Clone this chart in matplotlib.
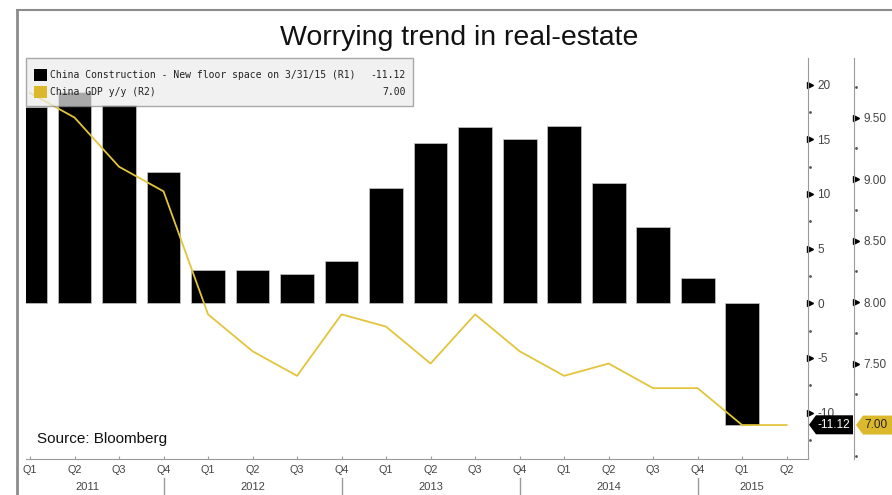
import numpy as np
import matplotlib
matplotlib.use("Agg")
import matplotlib.pyplot as plt
import matplotlib.transforms as mtrans
from matplotlib.patches import Rectangle, Polygon
from matplotlib.lines import Line2D
from matplotlib import font_manager

# ---- data ----
quarters = ["Q1", "Q2", "Q3", "Q4"] * 4 + ["Q1", "Q2"]
years = ["2011", "2012", "2013", "2014", "2015"]
construction = [18.0, 19.3, 18.1, 12.0, 3.0, 3.0, 2.7, 3.9, 10.5, 14.7,
                16.1, 15.0, 16.2, 11.0, 7.0, 2.3, -11.12, np.nan]
gdp = [9.7, 9.5, 9.1, 8.9, 7.9, 7.6, 7.4, 7.9, 7.8, 7.5,
       7.9, 7.6, 7.4, 7.5, 7.3, 7.3, 7.0, 7.0]
r1_ticks = [-10, -5, 0, 5, 10, 15, 20]
r1_minor = [-12.5, -7.5, -2.5, 2.5, 7.5, 12.5, 17.5]
r2_ticks = [7.50, 8.00, 8.50, 9.00, 9.50]
r2_minor = [6.75, 7.25, 7.75, 8.25, 8.75, 9.25, 9.75]
last_construction = -11.12
last_gdp = 7.00
legend_labels = ["China Construction - New floor space on 3/31/15 (R1)",
                 "China GDP y/y (R2)"]

_names = {f.name for f in font_manager.fontManager.ttflist}
NARROW = "Liberation Sans Narrow" if "Liberation Sans Narrow" in _names else "Liberation Sans"
MONO = "DejaVu Sans Mono"

W, H = 892, 495
BAR_C = "black"
LINE_C = "#e3c43b"
TAG_C = "#dcb92c"
AX_C = "#9a9a9a"
LBL_C = "#444444"
R2_OFFSET_PX = 46

fig = plt.figure(figsize=(W / 100, H / 100), dpi=100)
fig.patch.set_facecolor("white")


def fx(px):
    return px / W


def fy(py):
    return 1 - py / H


ax = fig.add_axes([fx(26), fy(459), (808 - 26) / W, (459 - 58) / H])
x = np.arange(len(quarters))
ax.bar(x, construction, width=0.76, color=BAR_C, edgecolor="#c8c8c8", linewidth=0.5)
ax.set_xlim(-0.09, 17.48)
ax.set_ylim(-14.25, 22.44)

ax2 = ax.twinx()
ax2.plot(x, gdp, color=LINE_C, lw=1.3)
ax2.set_ylim(6.724, 9.984)

# spines
for s in ("left", "top"):
    ax.spines[s].set_visible(False)
    ax2.spines[s].set_visible(False)
ax2.spines["bottom"].set_visible(False)
ax.spines["right"].set_color(AX_C)
ax.spines["bottom"].set_color(AX_C)
ax2.spines["right"].set_color(AX_C)
ax2.spines["right"].set_position(("outward", R2_OFFSET_PX * 72 / 100))

# right-hand value axes
ax.yaxis.tick_right()
ax.set_yticks(r1_ticks)
ax.set_yticklabels([str(v) for v in r1_ticks])
ax.tick_params(axis="y", which="both", length=0, pad=6.5, labelsize=8.5,
               labelcolor=LBL_C)
for t in ax.get_yticklabels():
    t.set_family(NARROW)
ax2.set_yticks(r2_ticks)
ax2.set_yticklabels([f"{v:.2f}" for v in r2_ticks])
ax2.tick_params(axis="y", which="both", length=0, pad=7, labelsize=8.5,
                labelcolor=LBL_C)
for t in ax2.get_yticklabels():
    t.set_family(NARROW)

shift = mtrans.ScaledTranslation(2 / 100, 0, fig.dpi_scale_trans)
tr1 = mtrans.blended_transform_factory(ax.transAxes, ax.transData) + shift
ax.plot([1] * len(r1_ticks), r1_ticks, transform=tr1, marker=">", ms=4,
        color="black", ls="none", clip_on=False)
ax.plot([1] * len(r1_minor), r1_minor, transform=tr1, marker=".", ms=2,
        color="#555555", ls="none", clip_on=False)
shift2 = mtrans.ScaledTranslation((R2_OFFSET_PX + 2) / 100, 0, fig.dpi_scale_trans)
tr2 = mtrans.blended_transform_factory(ax2.transAxes, ax2.transData) + shift2
ax2.plot([1] * len(r2_ticks), r2_ticks, transform=tr2, marker=">", ms=4,
         color="black", ls="none", clip_on=False)
ax2.plot([1] * len(r2_minor), r2_minor, transform=tr2, marker=".", ms=2,
         color="#555555", ls="none", clip_on=False)

# quarter axis
ax.set_xticks(x)
ax.set_xticklabels(quarters)
ax.tick_params(axis="x", length=2, direction="in", color=AX_C, pad=4,
               labelsize=7.8, labelcolor=LBL_C)
for t in ax.get_xticklabels():
    t.set_family(NARROW)

ytr = mtrans.blended_transform_factory(ax.transData, fig.transFigure)
year_pos = [1.3, 5.0, 9.0, 13.0, 16.22]
for yr, p in zip(years, year_pos):
    ax.text(p, fy(487), yr, transform=ytr, ha="center", va="center",
            fontsize=8, color=LBL_C, family=NARROW)
for sep in (3, 7, 11, 15):
    fig.add_artist(Line2D([sep, sep], [fy(478), fy(495)], transform=ytr,
                          color=AX_C, lw=1))

# legend panel
fig.add_artist(Rectangle((fx(26), fy(106)), (413 - 26) / W, (106 - 58) / H,
                         transform=fig.transFigure, facecolor="#ececec",
                         alpha=0.72, edgecolor="#8a8a8a", lw=1, zorder=5))
for i, (lab, col, val) in enumerate(zip(legend_labels, [BAR_C, TAG_C],
                                        [f"{last_construction:.2f}", f"{last_gdp:.2f}"])):
    cy = 75 + 17 * i
    fig.add_artist(Rectangle((fx(34), fy(cy + 6)), 13 / W, 12 / H,
                             transform=fig.transFigure, facecolor=col,
                             edgecolor="none", zorder=6))
    fig.text(fx(50), fy(cy), lab, ha="left", va="center", fontsize=7.0,
             family=MONO, color="#222222", zorder=7)
    fig.text(fx(406), fy(cy), val, ha="right", va="center", fontsize=7.0,
             family=MONO, color="#222222", zorder=7)

# last-value tags on the right axes
yb = H - ax.transData.transform((0, last_construction))[1]
pts = [(809, yb), (816, yb - 9.5), (853, yb - 9.5), (853, yb + 9.5), (816, yb + 9.5)]
fig.add_artist(Polygon([(fx(a), fy(b)) for a, b in pts], closed=True,
                       transform=fig.transFigure, facecolor="black",
                       edgecolor="none", zorder=6))
fig.text(fx(834), fy(yb), f"{last_construction:.2f}", ha="center", va="center",
         fontsize=8.5, color="white", family=NARROW, zorder=7)
yg = H - ax2.transData.transform((0, last_gdp))[1]
pts = [(856, yg), (863, yg - 9.5), (892, yg - 9.5), (892, yg + 9.5), (863, yg + 9.5)]
fig.add_artist(Polygon([(fx(a), fy(b)) for a, b in pts], closed=True,
                       transform=fig.transFigure, facecolor=TAG_C,
                       edgecolor="none", zorder=6))
fig.text(fx(876), fy(yg), f"{last_gdp:.2f}", ha="center", va="center",
         fontsize=8.5, color="#222222", family=NARROW, zorder=7)

# title, source and outer frame
fig.text(fx(459), fy(38), "Worrying trend in real-estate", ha="center",
         va="center", fontsize=20.5, family=NARROW, color="#111111")
fig.text(fx(37), fy(439), "Source: Bloomberg", ha="left", va="center",
         fontsize=11, family="Liberation Sans", color="#111111",
         bbox=dict(facecolor="white", edgecolor="none", pad=1), zorder=7)
fig.add_artist(Line2D([fx(17), fx(17)], [0, fy(10)], transform=fig.transFigure,
                      color="#8c8c8c", lw=2))
fig.add_artist(Line2D([fx(17), 1], [fy(10), fy(10)], transform=fig.transFigure,
                      color="#8c8c8c", lw=1.5))

fig.savefig("out.png", dpi=100)
